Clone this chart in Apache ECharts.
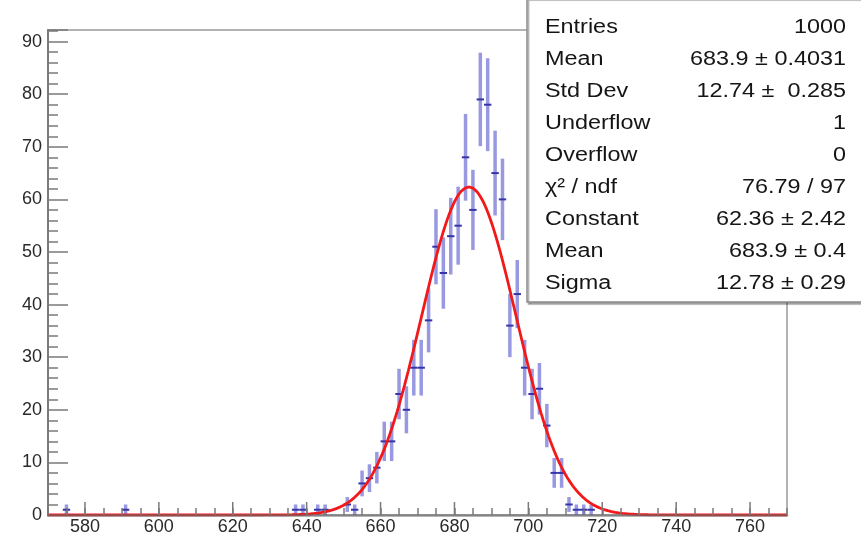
<!DOCTYPE html>
<html>
<head>
<meta charset="utf-8">
<script src="https://cdn.jsdelivr.net/npm/echarts@6/dist/echarts.min.js"></script>
<style>
  html, body { margin: 0; padding: 0; background: #fff; }
  #main { width: 861px; height: 536px; }
</style>
</head>
<body>
<div id="main"></div>
<script>
// histogram bins (width 2), centres and counts
const binCenters = [575, 591, 637, 639, 643, 645, 651, 653, 655, 657, 659, 661, 663, 665, 667, 669, 671, 673, 675, 677,
  679, 681, 683, 685, 687, 689, 691, 693, 695, 697, 699, 701, 703, 705, 707, 709, 711, 713, 715, 717];
const binCounts = [1, 1, 1, 1, 1, 1, 2, 1, 6, 7, 9, 14, 14, 23, 20, 28, 28, 37, 51, 46,
  53, 55, 68, 58, 79, 78, 65, 60, 36, 42, 28, 23, 24, 17, 8, 8, 2, 1, 1, 1];

// gaussian fit parameters (from the stats box)
const fitConstant = 62.36;
const fitMean = 683.9;
const fitSigma = 12.78;

// stats box rows
const statLabels = ['Entries', 'Mean', 'Std Dev', 'Underflow', 'Overflow', 'χ² / ndf', 'Constant', 'Mean', 'Sigma'];
const statValues = ['1000', '683.9 ± 0.4031', '12.74 ±  0.285', '1', '0', '76.79 / 97', '62.36 ± 2.42', '683.9 ± 0.4', '12.78 ± 0.29'];

// long ticks on the x axis
const xMajorTicks = [580, 600, 620, 640, 660, 680, 700, 720, 740, 760];

const xMin = 570, xMax = 770;

let fitCurve = [];
for (let x = xMin; x <= xMax; x += 0.5) {
  fitCurve.push([x, fitConstant * Math.exp(-0.5 * Math.pow((x - fitMean) / fitSigma, 2))]);
}

const axisGray = '#7a7a7a';
const labelFont = '"Liberation Sans", Arial, sans-serif';

let statChildren = [{
  type: 'rect',
  shape: {x: 0, y: 0, width: 345, height: 304},
  style: {fill: '#fff', stroke: '#8a8a8a', lineWidth: 1.5,
    shadowColor: 'rgba(0,0,0,0.35)', shadowOffsetX: 1.5, shadowOffsetY: 2, shadowBlur: 1}
}];
statLabels.forEach(function (lab, i) {
  statChildren.push({
    type: 'text', x: 18, y: 29 + 32 * i, scaleX: 1.17,
    style: {text: lab, x: 0, y: 0, fill: '#151515', font: '20px ' + labelFont,
      textAlign: 'left', textVerticalAlign: 'middle'}
  });
  statChildren.push({
    type: 'text', x: 319, y: 29 + 32 * i, scaleX: 1.17,
    style: {text: statValues[i], x: 0, y: 0, fill: '#151515', font: '20px ' + labelFont,
      textAlign: 'right', textVerticalAlign: 'middle'}
  });
});

let myChart = echarts.init(document.getElementById('main'), null, {renderer: 'canvas'});
myChart.setOption({
  backgroundColor: '#fff',
  animation: false,
  grid: {
    left: 48, right: 74, top: 30, bottom: 20,
    show: true, borderColor: '#9a9a9a', borderWidth: 1.5
  },
  xAxis: {
    type: 'value',
    min: xMin,
    max: xMax,
    interval: 5,
    z: 10,
    axisLine: {show: true, onZero: false, lineStyle: {color: 'rgba(105,105,105,0.65)', width: 2.5}},
    axisTick: {show: true, inside: true, length: 7, lineStyle: {color: axisGray, width: 1.5}},
    axisLabel: {
      margin: 3, fontSize: 18, color: '#2a2a2a', fontFamily: labelFont,
      formatter: function (v) { return v % 20 === 0 ? String(v) : ''; }
    },
    splitLine: {show: false}
  },
  yAxis: {
    type: 'value',
    min: 0,
    max: 92.2,
    interval: 10,
    axisLine: {show: true, lineStyle: {color: axisGray, width: 2}},
    axisTick: {show: true, inside: true, length: 20, lineStyle: {color: axisGray, width: 1.5}},
    minorTick: {show: true, splitNumber: 5, length: 10, lineStyle: {color: axisGray, width: 1.5}},
    axisLabel: {
      margin: 6, fontSize: 18, color: '#2a2a2a', fontFamily: labelFont,
      formatter: function (v) { return v % 10 === 0 ? String(v) : ''; }
    },
    splitLine: {show: false}
  },
  series: [{
    // error bars: sqrt(N) vertical, bin width horizontal
    type: 'custom',
    clip: true,
    z: 3,
    data: binCenters.map(function (c, i) { return [c, binCounts[i]]; }),
    renderItem: function (params, api) {
      let x = api.value(0), n = api.value(1), e = Math.sqrt(n);
      let top = api.coord([x, n + e]), bot = api.coord([x, n - e]);
      let l = api.coord([x - 1, n]), r = api.coord([x + 1, n]);
      return {
        type: 'group',
        children: [
          {type: 'line', shape: {x1: top[0], y1: top[1], x2: bot[0], y2: bot[1]},
            style: {stroke: 'rgba(70,70,200,0.55)', lineWidth: 3.5}},
          {type: 'line', shape: {x1: l[0], y1: l[1], x2: r[0], y2: r[1]},
            style: {stroke: '#3535a8', lineWidth: 2}}
        ]
      };
    }
  }, {
    type: 'line',
    data: fitCurve,
    showSymbol: false,
    smooth: false,
    z: 4,
    lineStyle: {color: '#f2191a', width: 2.8}
  }, {
    // long ticks every 20 on the x axis
    type: 'custom',
    clip: false,
    z: 5,
    silent: true,
    data: xMajorTicks.map(function (v) { return [v, 0]; }),
    renderItem: function (params, api) {
      let p = api.coord([api.value(0), 0]);
      return {type: 'line', shape: {x1: p[0], y1: p[1], x2: p[0], y2: p[1] - 13},
        style: {stroke: axisGray, lineWidth: 1.5}};
    }
  }],
  graphic: [{
    type: 'group',
    x: 527,
    y: -2,
    z: 100,
    children: statChildren
  }]
});
</script>
</body>
</html>
